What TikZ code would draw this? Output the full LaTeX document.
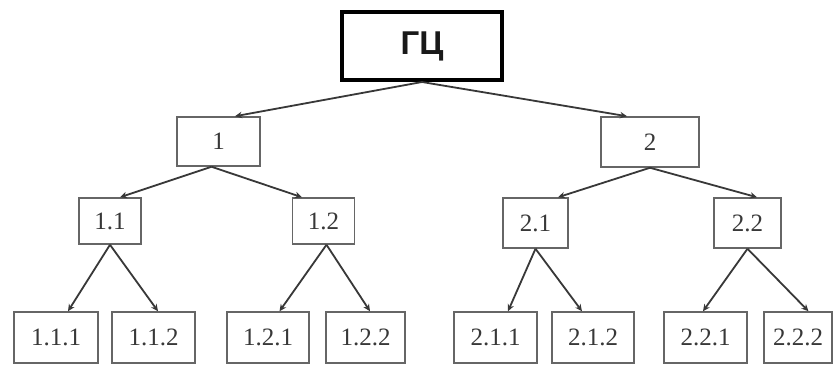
\documentclass[tikz,border=0pt]{standalone}
\usepackage{fontspec}
\setmainfont{Liberation Serif}
\newfontfamily\rootfont{Liberation Sans}
\usetikzlibrary{arrows.meta,calc}
\definecolor{boxgray}{HTML}{666666}
\definecolor{txtgray}{HTML}{383838}
\definecolor{arrgray}{HTML}{383838}
\tikzset{
  rootbox/.style={draw=black, line width=4pt, fill=white, inner sep=0pt,
    minimum width=160pt, minimum height=68pt,
    font=\rootfont\bfseries\fontsize{33}{36}\selectfont, text=black!90},
  treebox/.style={draw=boxgray, line width=1.5pt, fill=white, inner sep=0pt,
    font=\fontsize{25}{27}\selectfont, text=txtgray},
  link/.style={draw=arrgray, line width=1.8pt, -{Stealth[length=7pt,width=6.5pt]}}
}
\begin{document}
\begin{tikzpicture}[x=1pt,y=-1pt]
\useasboundingbox (0,0) rectangle (835,367);
\fill[white] (0,0) rectangle (835,367);
% root
\node[rootbox] (root) at (422,46) {ГЦ};
% level 1
\node[treebox, minimum width=83pt, minimum height=49pt] (n1) at (218.5,141.5) {1};
\node[treebox, minimum width=98pt, minimum height=50pt] (n2) at (650,142) {2};
% level 2
\node[treebox, minimum width=62pt, minimum height=46pt] (n11) at (110,221) {1.1};
\node[treebox, minimum width=62pt, minimum height=46pt] (n12) at (323.5,221) {1.2};
\node[treebox, minimum width=65pt, minimum height=50pt] (n21) at (535.5,223) {2.1};
\node[treebox, minimum width=67pt, minimum height=50pt] (n22) at (747.5,223) {2.2};
% level 3
\node[treebox, minimum width=84pt, minimum height=51pt] (n111) at (56,337.5) {1.1.1};
\node[treebox, minimum width=83pt, minimum height=51pt] (n112) at (153.5,337.5) {1.1.2};
\node[treebox, minimum width=82pt, minimum height=51pt] (n121) at (268,337.5) {1.2.1};
\node[treebox, minimum width=79pt, minimum height=51pt] (n122) at (365.5,337.5) {1.2.2};
\node[treebox, minimum width=83pt, minimum height=51pt] (n211) at (495.5,337.5) {2.1.1};
\node[treebox, minimum width=82pt, minimum height=51pt] (n212) at (593,337.5) {2.1.2};
\node[treebox, minimum width=83pt, minimum height=51pt] (n221) at (705.5,337.5) {2.2.1};
\node[treebox, minimum width=68pt, minimum height=51pt] (n222) at (798,337.5) {2.2.2};
% connectors
\draw[link] (root.south) -- ($(n1.north)+(16.5,0)$);
\draw[link] (root.south) -- ($(n2.north)+(-23,0)$);
\draw[link] ($(n1.south)+(-7,0)$) -- ($(n11.north)+(10,0)$);
\draw[link] ($(n1.south)+(-7,0)$) -- ($(n12.north)+(-21.5,0)$);
\draw[link] (n2.south) -- ($(n21.north)+(22.5,0)$);
\draw[link] (n2.south) -- ($(n22.north)+(9.5,0)$);
\draw[link] (n11.south) -- ($(n111.north)+(12,0)$);
\draw[link] (n11.south) -- ($(n112.north)+(4.5,0)$);
\draw[link] ($(n12.south)+(3,0)$) -- ($(n121.north)+(11.5,0)$);
\draw[link] ($(n12.south)+(3,0)$) -- ($(n122.north)+(4.5,0)$);
\draw[link] (n21.south) -- ($(n211.north)+(12.5,0)$);
\draw[link] (n21.south) -- ($(n212.north)+(-11,0)$);
\draw[link] (n22.south) -- ($(n221.north)+(-2.5,0)$);
\draw[link] (n22.south) -- ($(n222.north)+(10.5,0)$);
\end{tikzpicture}
\end{document}
